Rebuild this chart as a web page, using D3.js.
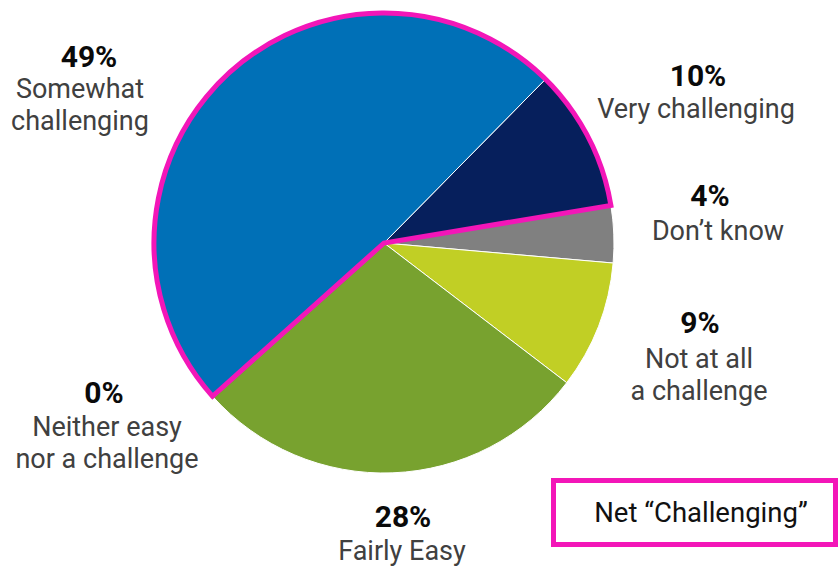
<!DOCTYPE html>
<html><head><meta charset="utf-8">
<script src="https://cdn.jsdelivr.net/npm/d3@7"></script>
<style>body{margin:0;background:#fff}svg{display:block}</style>
</head><body>
<svg id="c" width="838" height="568"></svg>
<script>
const categories = ["Very challenging","Don\u2019t know","Not at all a challenge","Fairly Easy","Neither easy nor a challenge","Somewhat challenging"];
const values = [10,4,9,28,0,49];
const percentLabels = ["10%","4%","9%","28%","0%","49%"];
const labelLines = [["Very challenging"],["Don\u2019t know"],["Not at all","a challenge"],["Fairly Easy"],["Neither easy","nor a challenge"],["Somewhat","challenging"]];
const challenging = ["Very challenging","Somewhat challenging"];
const legendLabel = "Net \u201cChallenging\u201d";

const colors = ["#061f5c","#808080","#c1cf25","#78a22f","#9aa0a6","#0070b7"];
const magenta = "#f316b8";
const pctPos = [[698,86],[710,206],[700,333],[403,527],[104,403],[89,67]];
const textPos = [[696,118],[718,240],[699,368],[402,560],[107,436],[80,98]];

const svg = d3.select("#c");
const cx = 384, cy = 243, R = 230;
const g = svg.append("g").attr("transform",`translate(${cx},${cy})`);
const startA = 44.6*Math.PI/180;
const pie = d3.pie().sort(null).value(d=>d).startAngle(startA).endAngle(startA+2*Math.PI);
const arcs = pie(values);
const arc = d3.arc().innerRadius(0).outerRadius(R);
g.selectAll("path.slice").data(arcs).join("path").attr("class","slice")
  .attr("d",arc).attr("fill",(d,i)=>colors[i]).attr("stroke","#fff").attr("stroke-width",1);

// Net challenging outline
const idx = categories.map((c,i)=>challenging.includes(c)?i:-1).filter(i=>i>=0);
const sA = arcs[idx[1]].startAngle, eA = arcs[idx[0]].endAngle + 2*Math.PI;
g.append("path").attr("d", d3.arc().innerRadius(0).outerRadius(R)({startAngle:sA,endAngle:eA}))
  .attr("fill","none").attr("stroke",magenta).attr("stroke-width",5).attr("stroke-linejoin","miter");

// labels
const font = "Roboto, 'Noto Sans', Arial, sans-serif";
categories.forEach((c,i)=>{
  svg.append("text").attr("x",pctPos[i][0]).attr("y",pctPos[i][1]).attr("text-anchor","middle").attr("font-family",font)
    .attr("font-size",30).attr("font-weight","bold").attr("fill","#0a0a0a").text(percentLabels[i]);
  labelLines[i].forEach((l,j)=>{
    svg.append("text").attr("x",textPos[i][0]).attr("y",textPos[i][1]+31.5*j).attr("text-anchor","middle").attr("font-family",font)
      .attr("font-size",27).attr("fill","#404040").text(l);
  });
});

// legend
svg.append("rect").attr("x",553.5).attr("y",480.5).attr("width",282).attr("height",64)
  .attr("fill","#fff").attr("stroke",magenta).attr("stroke-width",5);
svg.append("text").attr("x",701).attr("y",522).attr("text-anchor","middle").attr("font-family",font)
  .attr("font-size",27.5).attr("fill","#111").text(legendLabel);
</script>
</body></html>
